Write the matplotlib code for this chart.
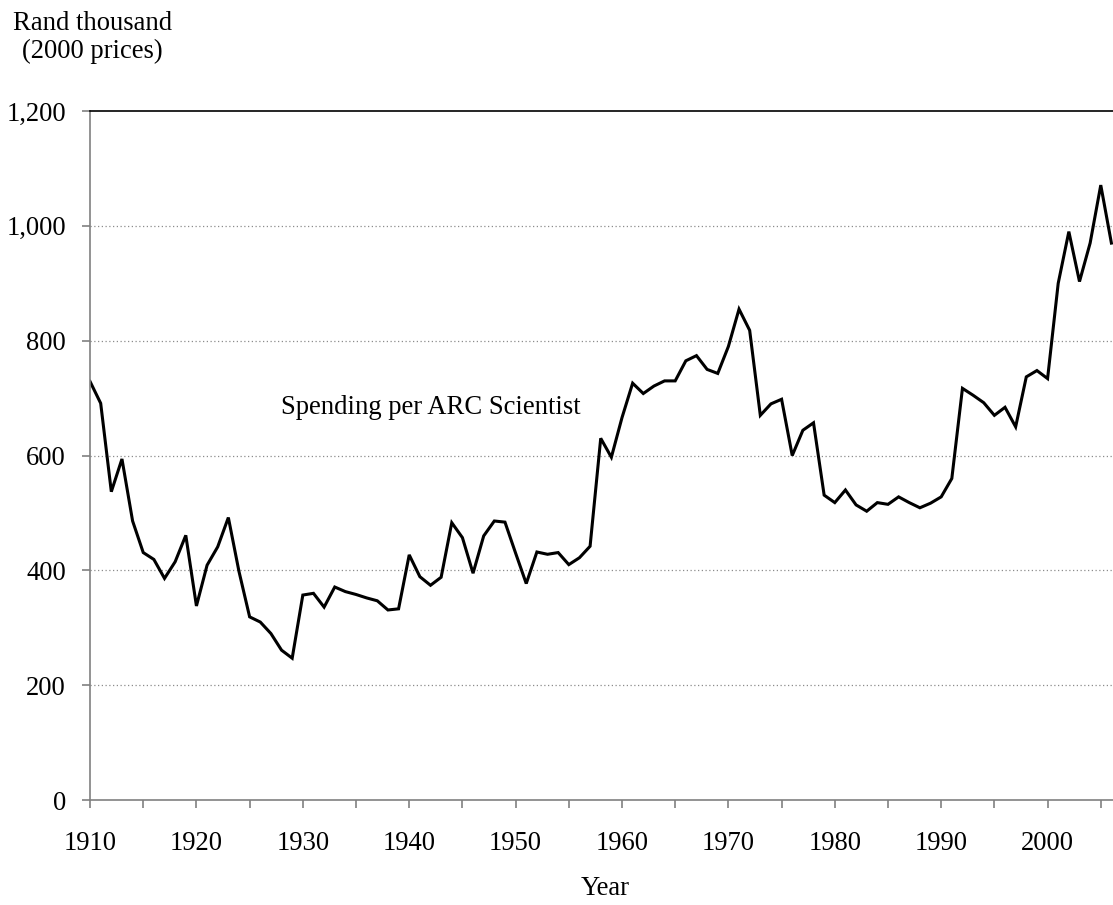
import matplotlib
matplotlib.use("Agg")
import matplotlib.pyplot as plt
from matplotlib.ticker import MultipleLocator, FuncFormatter

plt.rcParams['font.family'] = ['Liberation Serif', 'DejaVu Serif']

# spending per ARC scientist, rand thousand (2000 prices), 1910-2006
years = list(range(1910, 2007))
spending = [
    729, 691, 537, 594, 486, 431, 419, 386, 415, 461,   # 1910s
    338, 409, 441, 492, 398, 319, 310, 290, 261, 247,   # 1920s
    357, 360, 336, 371, 363, 358, 352, 347, 331, 333,   # 1930s
    427, 389, 374, 388, 483, 457, 395, 460, 486, 484,   # 1940s
    430, 377, 432, 428, 431, 410, 422, 442, 630, 597,   # 1950s
    666, 726, 708, 721, 730, 730, 765, 774, 750, 743,   # 1960s
    790, 855, 818, 670, 690, 698, 600, 644, 657, 531,   # 1970s
    518, 540, 514, 503, 518, 515, 528, 518, 509, 517,   # 1980s
    528, 560, 717, 705, 692, 670, 684, 650, 737, 748,   # 1990s
    734, 900, 990, 903, 970, 1071, 970,                 # 2000s
]
y_ticks = [0, 200, 400, 600, 800, 1000, 1200]
x_labels = [1910, 1920, 1930, 1940, 1950, 1960, 1970, 1980, 1990, 2000]

FS = 19.2

fig = plt.figure(figsize=(11.13, 9.05), dpi=100)
ax = fig.add_axes([0.0809, 0.116, 0.9191, 0.7613])

ax.plot(years, spending, color='black', linewidth=2.2, solid_joinstyle='miter')

ax.set_xlim(1910, 2006.15)
ax.set_ylim(0, 1200)
ax.set_yticks(y_ticks)
ax.yaxis.set_major_formatter(FuncFormatter(lambda v, p: f"{int(v):,}"))
ax.xaxis.set_major_locator(MultipleLocator(5))
ax.xaxis.set_major_formatter(
    FuncFormatter(lambda v, p: f"{int(round(v))}" if int(round(v)) in x_labels else ""))

# dotted gridlines, but not at the top (that is the black frame line)
for v in y_ticks[1:-1]:
    ax.axhline(v, color='#8c8c8c', linewidth=0.9, linestyle=(0, (1, 2)), zorder=0)

for side in ['left', 'bottom']:
    ax.spines[side].set_color('#808080')
    ax.spines[side].set_linewidth(1.2)
ax.spines['top'].set_color('black')
ax.spines['top'].set_linewidth(1.2)
ax.spines['right'].set_visible(False)

ax.tick_params(axis='x', direction='out', length=5.8, width=1.2, color='#808080',
               labelsize=FS, pad=16.3)
ax.tick_params(axis='y', direction='out', length=5.8, width=1.2, color='#808080',
               labelsize=FS, pad=11.5)

ax.text(1942, 684, "Spending per ARC Scientist", fontsize=FS,
        ha='center', va='center')

fig.text(92.5 / 1113, 1 - 37.5 / 905, "Rand thousand\n(2000 prices)", fontsize=FS,
         ha='center', va='center', multialignment='center')
fig.text(605 / 1113, 1 - 888 / 905, "Year", fontsize=FS, ha='center', va='center')

fig.savefig("out.png", dpi=100)
